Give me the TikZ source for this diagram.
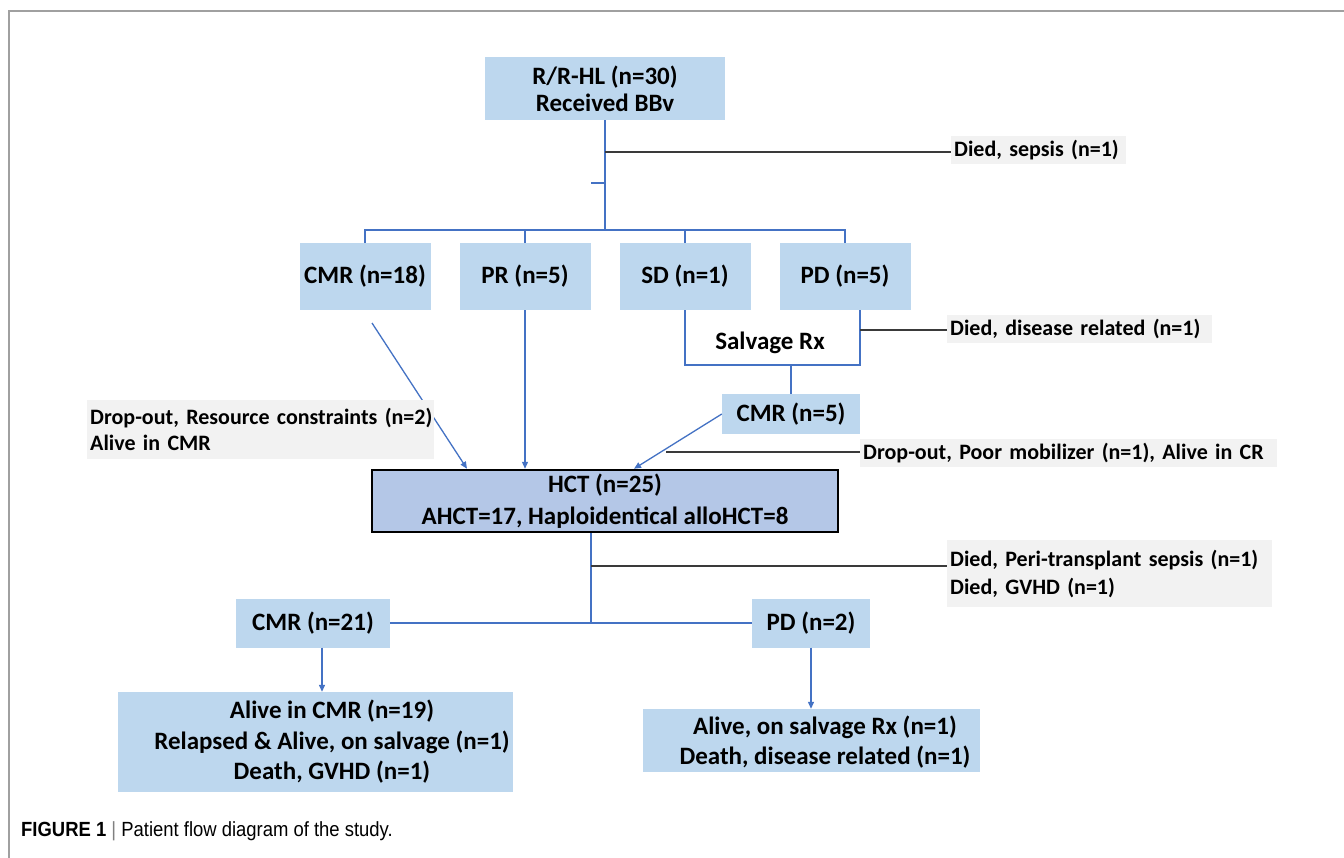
\documentclass[tikz,border=0pt]{standalone}
\usepackage{fontspec}
\setmainfont{Carlito}
\newfontfamily\capfont{Liberation Sans}[FakeStretch=0.9]
\usetikzlibrary{arrows.meta}
\definecolor{boxblue}{HTML}{BDD7EE}
\definecolor{hctblue}{HTML}{B4C7E7}
\definecolor{lineblue}{HTML}{4472C4}
\definecolor{labgray}{HTML}{F2F2F2}
\definecolor{darkline}{HTML}{3A3A3A}
\definecolor{framegray}{HTML}{A0A0A0}
\begin{document}
\begin{tikzpicture}[x=1pt,y=-1pt,
  box/.style={fill=boxblue, inner sep=0pt, align=center, font=\bfseries\fontsize{25}{30}\selectfont},
  btext/.style={inner sep=0pt, align=center, font=\bfseries\fontsize{25}{30.5}\selectfont},
  lab/.style={fill=labgray, inner xsep=3pt, inner ysep=0pt, align=left, anchor=west, font=\bfseries\fontsize{22}{27}\selectfont},
  bl/.style={draw=lineblue, line width=1.3pt},
  dk/.style={draw=darkline, line width=1.5pt},
  arr/.style={bl, -{Triangle[width=6pt,length=7pt]}},
]
\useasboundingbox (0,0) rectangle (1344,858);
\fill[white] (0,0) rectangle (1344,858);
\draw[framegray, line width=1.5pt] (1344,11) -- (9,11) -- (9,858);

% top box
\node[box, minimum width=240pt, minimum height=63pt, font=\bfseries\fontsize{25}{27}\selectfont] (top) at (605,88.5) {R/R-HL (n=30)\\Received BBv};
\coordinate (j1) at (605,152);
\coordinate (j2) at (605,183);
\coordinate (tick) at (591,183);
\coordinate (busc) at (605,230);
\draw[bl] (top.south) -- (busc);
\draw[bl] (tick) -- (j2);
\node[lab, minimum height=28pt, text width=169pt] (sepsis) at (951,150) {\mbox{Died, sepsis (n=1)}};
\draw[dk] (j1) -- (j1 -| sepsis.west);

% response boxes
\node[box, minimum width=131pt, minimum height=67pt] (cmrA) at (365,276.5) {CMR (n=18)};
\node[box, minimum width=131pt, minimum height=67pt] (pr) at (525,276.5) {PR (n=5)};
\node[box, minimum width=131pt, minimum height=67pt] (sd) at (685,276.5) {SD (n=1)};
\node[box, minimum width=131pt, minimum height=67pt] (pdA) at (845,276.5) {PD (n=5)};
\draw[bl] (cmrA.north) -- (cmrA.north |- busc) -| (pdA.north);
\draw[bl] (pr.north) -- (pr.north |- busc);
\draw[bl] (sd.north) -- (sd.north |- busc);

% salvage
\coordinate (salvL) at (685,365);
\coordinate (salvR) at (860,365);
\coordinate (salvB) at (791,365);
\draw[bl] (sd.south) -- (salvL) -- (salvR) -- (salvR |- pdA.south);
\node[btext] (salvage) at (770,343) {Salvage Rx};
\coordinate (dj) at (860,330);
\node[lab, minimum height=28pt, text width=259pt] (disrel) at (947,329) {\mbox{Died, disease related (n=1)}};
\draw[dk] (dj) -- (dj -| disrel.west);
\node[box, minimum width=138pt, minimum height=40pt] (cmrB) at (791,414) {CMR (n=5)};
\draw[bl] (salvB) -- (cmrB.north);

% HCT
\node[box, fill=hctblue, draw=black, line width=2.5pt, minimum width=466pt, minimum height=62pt, font=\bfseries\fontsize{25}{31.6}\selectfont] (hct) at (605,501) {HCT (n=25)\\AHCT=17, Haploidentical alloHCT=8};
\coordinate (a1s) at (372,323);
\draw[arr] (a1s) -- ([xshift=-138pt]hct.north);
\draw[arr] (pr.south) -- (pr.south |- hct.north);
\draw[arr] (cmrB.west) -- ([xshift=29pt]hct.north);

\node[lab, minimum height=59pt, text width=341pt, font=\bfseries\fontsize{22}{26}\selectfont] (drop1) at (87,429.5) {\mbox{Drop-out, Resource constraints (n=2)}\\\mbox{Alive in CMR}};
\coordinate (pmstart) at (666,452);
\node[lab, minimum height=28pt, text width=411pt] (drop2) at (860,453) {\mbox{Drop-out, Poor mobilizer (n=1), Alive in CR}};
\draw[dk] (pmstart) -- (pmstart -| drop2.west);

% below HCT
\coordinate (hj) at (591,566);
\coordinate (hb) at (591,623);
\draw[bl] (hct.south -| hb) -- (hb);
\node[lab, minimum height=67pt, text width=319pt, font=\bfseries\fontsize{22}{28}\selectfont] (peri) at (947,573.5) {\mbox{Died, Peri-transplant sepsis (n=1)}\\\mbox{Died, GVHD (n=1)}};
\draw[dk] (hj) -- (hj -| peri.west);
\node[box, minimum width=154pt, minimum height=49pt] (cmrC) at (313,623) {CMR (n=21)};
\node[box, minimum width=118pt, minimum height=49pt] (pdB) at (811,623) {PD (n=2)};
\draw[bl] (cmrC.east) -- (pdB.west);

% results
\node[box, minimum width=395pt, minimum height=100pt] (res1) at (315.5,742) {};
\node[btext] (res1t) at (332,742) {Alive in CMR (n=19)\\Relapsed \& Alive, on salvage (n=1)\\Death, GVHD (n=1)};
\draw[arr] ([xshift=9pt]cmrC.south) -- ([xshift=9pt]cmrC.south |- res1.north);
\node[box, minimum width=337pt, minimum height=63pt] (res2) at (811.5,740.5) {};
\node[btext] (res2t) at (825,742) {Alive, on salvage Rx (n=1)\\Death, disease related (n=1)};
\draw[arr] (pdB.south) -- (pdB.south |- res2.north);

% caption
\node[anchor=west, inner sep=0pt, font=\capfont\fontsize{20.5}{24}\selectfont] (cap) at (21,831) {\textbf{FIGURE 1} {\color{gray}|} Patient flow diagram of the study.};
\end{tikzpicture}
\end{document}
